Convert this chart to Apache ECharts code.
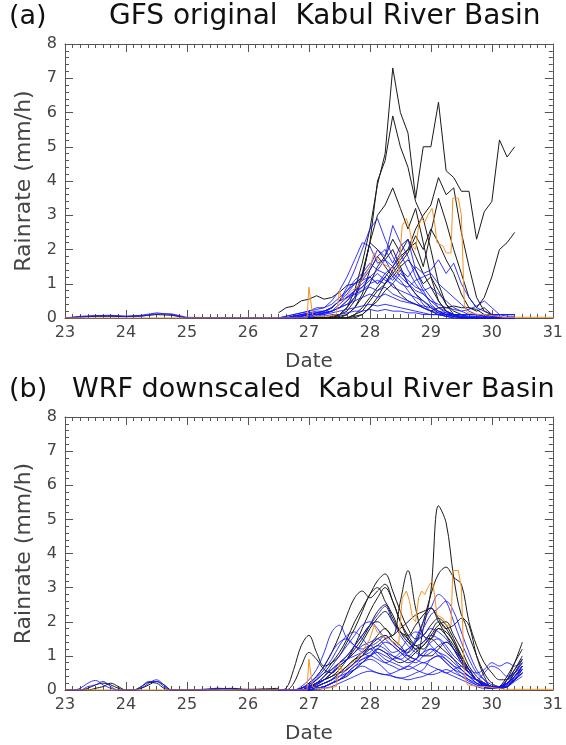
<!DOCTYPE html>
<html><head><meta charset="utf-8">
<script src="https://cdn.jsdelivr.net/npm/echarts@6/dist/echarts.min.js"></script>
<style>html,body{margin:0;padding:0;background:#fff}#c{width:566px;height:745px}</style>
</head><body><div id="c"></div>
<script>
// ---------- time axes ----------
var quietA_t = [23,23.25,23.5,23.75,24,24.25,24.5,24.75,25,26,26.5];
var gfs_t = [26.5,26.625,26.75,26.875,27,27.125,27.25,27.375,27.5,27.625,27.75,27.875,28,28.125,28.25,28.375,28.5,28.625,28.75,28.875,29,29.125,29.25,29.375,29.5,29.625,29.75,29.875,30,30.125,30.25,30.375];
var quietB_t = [23,23.125,23.25,23.375,23.5,23.625,23.75,23.875,24,24.125,24.25,24.375,24.5,24.625,24.75,25,25.25,25.5,25.75,26,26.25,26.5];
var wrf_t = [26.5,26.625,26.75,26.875,27,27.125,27.25,27.375,27.5,27.625,27.75,27.875,28,28.125,28.25,28.375,28.5,28.625,28.75,28.875,29,29.125,29.25,29.375,29.5,29.625,29.75,29.875,30,30.125,30.25,30.375,30.5];
var obs_t = [23,26.97,27.0,27.06,27.1,27.3,27.45,27.5,27.55,27.6,27.7,27.8,27.9,28.0,28.07,28.12,28.2,28.3,28.4,28.47,28.53,28.6,28.65,28.7,28.75,28.8,28.85,28.9,28.95,29.02,29.06,29.1,29.2,29.25,29.33,29.36,29.45,29.5,29.55,29.6,29.8,29.9,30.2,31];
var obs_v = [0,0,0.9,0.1,0.05,0.05,0.1,0.8,0.5,0.6,0.8,0.9,1.2,1.5,1.9,1.7,1.6,1.5,1.4,1.3,2.7,2.9,2.6,2.1,2.0,2.7,2.9,2.8,3.0,3.2,2.8,2.2,2.1,1.9,1.9,3.5,3.5,3.0,0.4,0.15,0.1,0.1,0.02,0.02];

// ---------- (a) GFS quiet period ----------
var qA_black = [0,0.03,0.05,0.05,0.04,0.06,0.1,0.08,0,0,0];
var qA_blue1 = [0,0.05,0.07,0.08,0.05,0.08,0.15,0.1,0,0,0];
var qA_blue2 = [0,0.03,0.06,0.06,0.05,0.05,0.12,0.12,0.02,0,0];

// ---------- (a) GFS black members ----------
var gK1 = [0,0,0,0,0,0,0,0.05,0.1,0.3,0.8,1.6,2.6,3.9,4.8,7.3,6.0,5.4,3.5,5.0,5.0,6.3,4.3,4.1,3.7,3.7,2.3,3.1,3.4,5.2,4.7,5.0];
var gK2 = [0,0,0,0,0,0,0,0,0.1,0.2,0.5,1.2,2.2,4.0,4.6,5.9,5.0,4.4,3.4,2.9,2.0,1.0,0.4,0.1,0,0,0,0,0,0,0,0];
var gK3 = [0,0,0,0,0,0,0,0,0,0,0.1,0.3,0.6,0.9,1.2,1.5,1.8,2.0,2.6,3.0,3.3,4.1,3.6,3.8,2.5,1.5,0.6,0.2,0.1,0,0,0];
var gK4 = [0,0,0,0,0,0,0,0,0,0,0,0.1,0.3,0.6,1.0,1.4,1.7,2.0,2.2,1.5,2.5,3.5,2.8,2.0,1.3,0.6,0.3,0.6,1.2,2.0,2.2,2.5];
var gK5 = [0,0,0,0,0,0,0,0,0.1,0.3,0.6,1.3,2.2,3.0,3.3,3.8,3.2,2.6,3.2,2.2,1.2,0.5,0.2,0.1,0,0,0,0,0,0,0,0];
var gK6 = [0.15,0.3,0.35,0.5,0.55,0.65,0.55,0.6,0.75,0.95,1.0,1.2,2.2,2.0,1.7,2.0,1.5,1.0,0.7,0.5,0.3,0.15,0.1,0.05,0,0,0,0,0,0,0,0];
var gK7 = [0,0,0,0,0,0,0,0,0,0.1,0.3,0.7,1.4,1.8,1.5,1.2,1.5,1.7,1.4,1.0,1.2,0.8,0.4,0.2,0.1,0,0,0,0,0,0,0];
var gK8 = [0,0,0,0,0,0,0,0,0,0,0.1,0.2,0.5,0.8,1.0,1.3,1.6,1.9,2.4,2.0,2.6,2.2,1.7,1.3,0.7,0.3,0.2,0.3,0.1,0,0,0];
var gK9 = [0,0,0,0,0,0,0,0,0,0,0.05,0.1,0.3,0.5,0.8,1.0,0.7,0.5,0.4,0.3,0.2,0.3,0.3,0.35,0.3,0.3,0.25,0.1,0.05,0,0,0];
var gK10 = [0,0,0,0,0,0,0,0,0.05,0.1,0.3,0.6,1.0,1.5,1.8,2.3,1.9,2.3,1.8,1.3,0.9,0.5,0.2,0.1,0,0,0,0,0,0,0,0];

// ---------- (a) GFS blue members ----------
var gB1 = [0,0,0.05,0.1,0.15,0.15,0.2,0.3,0.5,0.9,1.4,2.0,2.6,2.9,2.3,1.8,1.4,1.0,0.7,0.4,0.2,0.1,0.05,0,0,0,0,0,0,0,0,0];
var gB2 = [0,0,0.05,0.1,0.15,0.2,0.2,0.3,0.5,0.7,1.0,1.2,1.5,2.0,1.8,2.7,2.2,1.8,1.2,0.8,0.4,0.2,0.1,0.05,0,0,0,0,0,0,0,0];
var gB3 = [0,0.05,0.1,0.15,0.2,0.25,0.3,0.5,0.8,1.2,1.7,2.2,2.1,1.6,1.7,1.3,1.1,0.8,0.5,0.3,0.2,0.1,0.05,0,0,0,0,0,0,0,0,0];
var gB4 = [0,0,0,0.05,0.1,0.1,0.15,0.2,0.3,0.5,0.7,0.9,1.2,1.0,1.3,1.1,1.4,1.2,1.5,1.3,1.4,1.7,1.3,1.6,1.0,0.6,0.3,0.2,0.1,0.05,0,0];
var gB5 = [0,0,0.05,0.1,0.1,0.15,0.2,0.3,0.5,0.8,1.1,1.3,1.6,1.4,1.7,1.5,1.9,1.4,1.0,0.7,0.5,0.3,0.2,0.1,0.05,0,0,0,0,0,0,0];
var gB6 = [0,0,0,0.05,0.1,0.1,0.15,0.3,0.5,0.6,0.8,1.0,1.2,1.4,1.3,1.5,1.2,1.0,0.8,0.7,0.5,0.4,0.3,0.25,0.2,0.25,0.35,0.5,0.3,0.1,0.05,0.05];
var gB7 = [0,0,0,0,0.05,0.1,0.1,0.2,0.3,0.4,0.6,0.8,1.0,1.1,1.0,1.2,1.0,0.9,1.1,1.2,1.3,1.0,0.8,0.6,0.4,0.2,0.1,0.05,0,0,0,0];
var gB8 = [0,0.05,0.1,0.15,0.2,0.3,0.3,0.4,0.6,0.8,1.0,1.1,1.2,1.0,1.2,0.9,0.8,0.7,0.6,0.5,0.35,0.2,0.1,0.05,0,0,0,0,0,0,0,0];
var gB9 = [0,0,0.05,0.1,0.1,0.15,0.2,0.3,0.5,0.6,0.7,0.8,0.9,0.8,0.9,0.7,0.6,0.5,0.4,0.35,0.3,0.2,0.15,0.1,0.1,0.1,0.1,0.05,0.05,0,0,0];
var gB10 = [0,0,0,0.05,0.1,0.1,0.15,0.2,0.3,0.4,0.5,0.6,0.7,0.6,0.7,0.6,0.5,0.45,0.4,0.3,0.2,0.15,0.1,0.1,0.1,0.05,0.05,0.05,0,0,0,0];
var gB11 = [0,0,0,0,0.05,0.05,0.1,0.15,0.2,0.25,0.3,0.35,0.4,0.35,0.4,0.35,0.3,0.25,0.2,0.15,0.1,0.1,0.05,0.05,0.05,0.05,0.05,0,0,0,0,0];
var gB12 = [0,0,0,0.05,0.1,0.1,0.15,0.2,0.3,0.5,0.8,1.1,1.4,1.8,2.0,1.6,2.1,2.3,1.4,0.9,0.6,0.3,0.15,0.1,0.05,0,0,0,0,0,0,0];
var gB13 = [0,0,0.05,0.05,0.1,0.15,0.15,0.2,0.4,0.6,0.8,0.9,1.1,1.3,1.1,1.0,1.3,1.1,0.9,0.8,0.9,0.7,0.5,0.3,0.2,0.1,0.1,0.1,0.1,0.1,0.1,0.1];
var gB14 = [0,0,0,0,0,0.05,0.05,0.1,0.1,0.15,0.2,0.2,0.25,0.2,0.25,0.2,0.2,0.15,0.15,0.1,0.1,0.1,0.1,0.1,0.1,0.1,0.1,0.1,0.1,0.1,0.1,0.1];

// ---------- (b) WRF quiet period ----------
var qB_blue1 = [0,0,0.05,0.2,0.28,0.15,0.05,0,0,0,0.05,0.2,0.3,0.15,0,0,0,0.05,0.02,0,0,0];
var qB_blue2 = [0,0,0,0.1,0.15,0.25,0.1,0,0,0,0.1,0.25,0.25,0.1,0,0,0.02,0.05,0.03,0,0,0];
var qB_black1 = [0,0,0,0.05,0.15,0.2,0.15,0.05,0,0,0.1,0.22,0.2,0.05,0,0,0,0.03,0.05,0,0.02,0];
var qB_black2 = [0,0,0,0,0.05,0.1,0.2,0.1,0,0,0.05,0.15,0.25,0.15,0,0,0,0.02,0.03,0.02,0.03,0.05];

// ---------- (b) WRF black members ----------
var wK1 = [0,0,0,0,0.1,0.2,0.3,0.4,0.5,0.6,0.8,1.0,1.3,1.6,1.8,1.5,1.3,1.0,0.9,1.8,2.9,5.4,4.9,3.3,2.2,1.9,1.0,0.4,0.1,0.1,0.2,0.4,0.6];
var wK2 = [0,0,0,0,0,0.1,0.2,0.3,0.5,0.7,0.9,1.1,1.3,1.5,1.6,1.4,1.2,1.1,1.4,2.0,2.8,3.4,3.6,3.3,3.1,2.0,1.3,0.8,0.5,0.3,0.3,0.6,0.9];
var wK3 = [0,0,0,0,0.05,0.2,0.4,0.6,0.8,1.0,1.3,1.6,1.9,2.0,1.8,1.6,2.6,3.5,2.4,1.6,1.5,1.8,1.7,1.4,0.9,0.5,0.3,0.2,0.1,0.1,0.2,0.5,0.8];
var wK4 = [0,0,0,0,0.1,0.3,0.5,0.8,1.1,1.5,2.0,2.4,2.8,3.2,3.4,2.9,2.3,1.8,1.5,1.6,1.9,2.1,1.9,1.5,1.0,0.6,0.3,0.15,0.1,0.1,0.3,0.6,1.0];
var wK5 = [0,0,0,0.05,0.2,0.4,0.7,1.1,1.6,2.2,2.7,2.9,2.7,2.9,3.1,2.6,2.0,1.6,1.3,1.2,1.5,1.8,1.6,1.3,0.9,0.5,0.3,0.1,0.05,0.1,0.4,0.8,1.2];
var wK6 = [0,0.05,0.6,1.3,1.6,1.1,0.7,0.8,1.0,1.4,1.8,2.3,2.8,3.0,2.6,2.2,1.7,1.4,1.2,1.0,1.0,1.2,1.4,1.2,0.9,0.6,0.3,0.1,0.05,0.05,0.3,0.8,1.4];
var wK7 = [0,0,0.2,0.7,1.1,0.9,0.6,0.5,0.7,0.9,1.1,1.4,1.8,2.1,2.3,2.0,1.7,1.5,1.3,1.4,1.7,2.0,1.8,1.4,1.0,0.6,0.3,0.15,0.1,0.1,0.2,0.5,0.9];
var wK8 = [0,0,0,0,0,0.1,0.2,0.3,0.5,0.7,0.9,1.0,1.2,1.3,1.5,1.6,1.8,2.0,2.2,2.3,2.4,2.1,1.8,1.9,2.1,1.6,1.0,0.5,0.2,0.1,0.1,0.4,0.7];
var wK9 = [0,0,0,0,0,0.05,0.1,0.2,0.3,0.4,0.6,0.8,1.0,1.2,1.1,0.9,0.8,0.9,1.1,1.3,1.5,1.3,1.1,0.9,0.7,0.5,0.3,0.2,0.1,0.05,0.1,0.3,0.6];
var wK10 = [0,0,0,0,0.05,0.15,0.3,0.5,0.7,0.9,1.2,1.5,1.9,2.3,2.5,2.1,1.7,1.6,1.9,2.2,2.4,2.0,1.6,1.2,0.8,0.5,0.3,0.15,0.1,0.05,0.1,0.3,0.5];
var wK11 = [0,0,0,0,0.1,0.2,0.3,0.4,0.6,0.9,1.3,1.8,2.3,2.7,3.0,2.6,2.0,1.5,1.2,1.3,1.6,1.9,2.0,1.6,1.2,0.7,0.4,0.2,0.1,0.05,0.2,0.4,0.7];

// ---------- (b) WRF blue members ----------
var wB1 = [0,0,0,0.1,0.3,0.6,1.1,1.7,1.9,1.5,1.3,1.1,1.0,1.2,1.4,1.3,1.1,0.9,0.8,1.0,1.2,1.1,0.9,0.7,0.6,0.4,0.3,0.5,0.7,0.6,0.4,0.5,0.7];
var wB2 = [0,0,0,0,0.05,0.1,0.2,0.3,0.5,0.6,0.8,1.0,1.1,1.3,1.2,1.0,0.9,1.1,1.5,2.0,2.4,2.8,2.6,2.0,1.4,0.9,0.5,0.3,0.15,0.1,0.2,0.4,0.6];
var wB3 = [0,0,0,0.05,0.1,0.2,0.3,0.5,0.8,1.0,1.3,1.6,1.9,2.2,2.45,2.0,1.6,1.3,1.1,1.0,1.1,1.3,1.4,1.2,0.9,0.6,0.3,0.2,0.1,0.1,0.2,0.4,0.6];
var wB4 = [0,0,0,0,0,0.05,0.1,0.2,0.3,0.5,0.7,0.9,1.0,0.9,0.8,0.9,1.1,1.2,1.4,1.8,2.2,2.4,2.6,2.3,1.7,1.1,0.6,0.3,0.1,0.1,0.2,0.4,0.7];
var wB5 = [0,0,0,0.05,0.2,0.4,0.7,1.1,1.4,1.5,1.3,1.2,1.3,1.1,0.9,0.8,0.7,0.6,0.7,0.8,0.7,0.6,0.5,0.6,0.7,0.5,0.3,0.2,0.1,0.1,0.3,0.5,0.8];
var wB6 = [0,0,0,0,0.05,0.1,0.2,0.3,0.4,0.5,0.6,0.7,0.6,0.5,0.45,0.5,0.6,0.7,0.6,0.5,0.45,0.5,0.6,0.5,0.4,0.3,0.2,0.15,0.1,0.1,0.2,0.3,0.5];
var wB7 = [0,0,0,0,0,0.05,0.1,0.2,0.4,0.6,0.8,0.9,1.0,1.2,1.1,1.0,0.9,0.8,0.9,1.1,1.4,1.5,1.3,1.0,0.8,0.6,0.5,0.6,0.8,0.7,0.8,0.7,0.9];
var wB8 = [0,0,0,0,0.05,0.15,0.3,0.5,0.7,0.9,1.1,1.3,1.4,1.5,1.3,1.1,1.2,1.5,1.7,1.6,1.3,1.1,1.0,0.8,0.6,0.4,0.2,0.1,0.05,0.05,0.2,0.4,0.7];
var wB9 = [0,0,0,0,0,0.05,0.1,0.2,0.3,0.5,0.7,0.8,0.9,0.8,0.6,0.4,0.35,0.4,0.5,0.6,0.9,1.0,0.9,0.7,0.5,0.3,0.15,0.1,0.05,0.05,0.1,0.3,0.5];
var wB10 = [0,0,0,0,0.1,0.2,0.4,0.7,1.0,1.3,1.6,1.9,2.0,1.8,1.5,1.3,1.1,1.0,1.2,1.4,1.6,1.5,1.2,0.9,0.6,0.4,0.2,0.1,0.05,0.1,0.2,0.4,0.6];
var wB11 = [0,0,0,0.05,0.15,0.3,0.5,0.6,0.8,0.9,1.0,1.1,1.2,1.0,0.8,0.7,0.6,0.7,0.9,1.1,1.2,1.0,0.8,0.6,0.5,0.4,0.3,0.2,0.1,0.1,0.2,0.35,0.5];
var wB12 = [0,0,0,0,0,0.05,0.1,0.2,0.3,0.45,0.6,0.8,1.0,1.1,1.0,0.9,1.0,1.2,1.4,1.6,1.8,1.7,1.5,1.2,0.8,0.5,0.3,0.15,0.05,0.05,0.15,0.3,0.5];
var wB13 = [0,0,0,0,0,0,0.05,0.1,0.2,0.3,0.4,0.5,0.55,0.5,0.45,0.4,0.35,0.3,0.35,0.4,0.5,0.6,0.5,0.4,0.3,0.2,0.1,0.05,0.05,0.05,0.1,0.25,0.4];
var wB14 = [0,0,0,0.05,0.15,0.35,0.6,0.9,1.3,1.6,1.7,1.5,1.3,1.4,1.6,1.4,1.2,1.0,0.9,0.8,0.9,1.0,0.8,0.6,0.4,0.25,0.15,0.1,0.05,0.05,0.15,0.3,0.5];

// ---------- tick labels ----------
var xTicks = [23,24,25,26,27,28,29,30,31];
var yTicks = [0,1,2,3,4,5,6,7,8];

// ---------- build ----------
var BLACK = '#1a1a1a', BLUE = 'rgba(20,20,255,0.85)', ORANGE = '#f7931e';
var FONT = 'DejaVu Sans';
var series = [];
function pairs(t, v){ return t.map(function(x,i){ return [x, v[i]]; }); }
function add(g, t, v, color, smooth, z){
  series.push({type:'line', xAxisIndex:g*2, yAxisIndex:g*2, data:pairs(t,v), showSymbol:false, symbol:'none',
    smooth: smooth ? 0.35 : false, lineStyle:{color:color, width:1}, z:z, silent:true, animation:false, clip:true});
}
// panel a
add(0, quietA_t, qA_black, BLACK, false, 2);
add(0, quietA_t, qA_blue1, BLUE, false, 3);
add(0, quietA_t, qA_blue2, BLUE, false, 3);
[gK1,gK2,gK3,gK4,gK5,gK6,gK7,gK8,gK9,gK10].forEach(function(v){ add(0, gfs_t, v, BLACK, false, 2); });
[gB1,gB2,gB3,gB4,gB5,gB6,gB7,gB8,gB9,gB10,gB11,gB12,gB13,gB14].forEach(function(v){ add(0, gfs_t, v, BLUE, false, 3); });
add(0, obs_t, obs_v, ORANGE, false, 4);
// panel b
add(1, quietB_t, qB_black1, BLACK, true, 2);
add(1, quietB_t, qB_black2, BLACK, true, 2);
add(1, quietB_t, qB_blue1, BLUE, true, 3);
add(1, quietB_t, qB_blue2, BLUE, true, 3);
[wK1,wK2,wK3,wK4,wK5,wK6,wK7,wK8,wK9,wK10,wK11].forEach(function(v){ add(1, wrf_t, v, BLACK, true, 2); });
[wB1,wB2,wB3,wB4,wB5,wB6,wB7,wB8,wB9,wB10,wB11,wB12,wB13,wB14].forEach(function(v){ add(1, wrf_t, v, BLUE, true, 3); });
add(1, obs_t, obs_v, ORANGE, false, 4);

var AX = '#555', LBL = '#444';
function xAxisPair(g){
  var base = {type:'value', gridIndex:g, min:xTicks[0], max:xTicks[xTicks.length-1], interval:1,
    axisLine:{show:true, onZero:false, lineStyle:{color:AX, width:1}},
    axisTick:{show:true, inside:true, length:8, lineStyle:{color:AX}},
    minorTick:{show:true, splitNumber:8, length:4, lineStyle:{color:AX}},
    splitLine:{show:false}, minorSplitLine:{show:false}};
  var bottom = Object.assign({}, base, {position:'bottom', name:'Date', nameLocation:'middle', nameGap:34,
    nameTextStyle:{fontFamily:FONT, fontSize:20, color:LBL},
    axisLabel:{show:true, margin:7, fontFamily:FONT, fontSize:16, color:LBL}});
  var top = Object.assign({}, base, {position:'top', axisLabel:{show:false}});
  return [bottom, top];
}
function yAxisPair(g){
  var base = {type:'value', gridIndex:g, min:yTicks[0], max:yTicks[yTicks.length-1], interval:1,
    axisLine:{show:true, onZero:false, lineStyle:{color:AX, width:1}},
    axisTick:{show:true, inside:true, length:8, lineStyle:{color:AX}},
    minorTick:{show:true, splitNumber:5, length:4, lineStyle:{color:AX}},
    splitLine:{show:false}, minorSplitLine:{show:false}};
  var left = Object.assign({}, base, {position:'left', name:'Rainrate (mm/h)', nameLocation:'middle', nameGap:30,
    nameTextStyle:{fontFamily:FONT, fontSize:22, color:LBL},
    axisLabel:{show:true, margin:8, fontFamily:FONT, fontSize:16, color:LBL}});
  var right = Object.assign({}, base, {position:'right', axisLabel:{show:false}});
  return [left, right];
}
var xa = xAxisPair(0).concat(xAxisPair(1));
var ya = yAxisPair(0).concat(yAxisPair(1));
var chart = echarts.init(document.getElementById('c'), null, {renderer:'canvas'});
chart.setOption({
  animation:false,
  backgroundColor:'#fff',
  grid:[{left:65, top:44, width:489, height:274}, {left:65, top:417, width:489, height:274}],
  xAxis: xa, yAxis: ya,
  graphic:[
    {type:'text', left:9, top:3, style:{text:'(a)', fontFamily:FONT, fontSize:27, fill:'#111'}},
    {type:'text', left:109, top:3, style:{text:'GFS original  Kabul River Basin', fontFamily:FONT, fontSize:28, fill:'#111'}},
    {type:'text', left:9, top:376, style:{text:'(b)', fontFamily:FONT, fontSize:27, fill:'#111'}},
    {type:'text', left:72, top:376, style:{text:'WRF downscaled  Kabul River Basin', fontFamily:FONT, fontSize:27, fill:'#111'}}
  ],
  series: series
});
</script></body></html>
